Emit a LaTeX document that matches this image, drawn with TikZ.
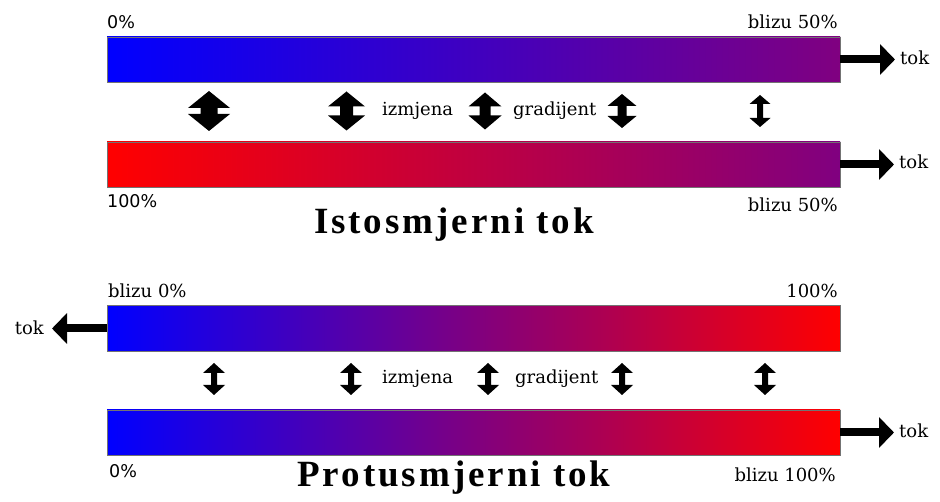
\documentclass[tikz,border=0pt]{standalone}
\usepackage{fontspec}
\setmainfont{DejaVu Serif}
\newfontfamily\titlefont[LetterSpace=8]{Liberation Serif}
\newfontfamily\pctfont{DejaVu Sans}
\usetikzlibrary{arrows.meta}
\definecolor{purp}{RGB}{128,0,128}
\definecolor{pblue}{RGB}{0,0,255}
\definecolor{pred}{RGB}{255,0,0}
\tikzset{
  bar/.style={draw=black!55, line width=0.6pt, minimum width=733pt, minimum height=45pt, inner sep=0pt},
  lbl/.style={inner sep=0pt, font=\fontsize{18}{20}\selectfont},
  pct/.style={inner sep=0pt, font=\pctfont\fontsize{17.5}{19}\selectfont},
  ttl/.style={inner sep=0pt, font=\titlefont\bfseries\fontsize{37}{40}\selectfont},
  flow/.style={line width=8pt, -{Triangle[length=15pt,width=30pt]}},
  arrfill/.style={fill=black}
}
\newcommand\VArr[6]{\fill[arrfill,shift={(#1,#2)}] (0,{-#4/2}) -- ({#3/2},{-#4/2+#5}) -- ({#6/2},{-#4/2+#5}) -- ({#6/2},{#4/2-#5}) -- ({#3/2},{#4/2-#5}) -- (0,{#4/2}) -- ({-#3/2},{#4/2-#5}) -- ({-#6/2},{#4/2-#5}) -- ({-#6/2},{-#4/2+#5}) -- ({-#3/2},{-#4/2+#5}) -- cycle;}
\begin{document}
\begin{tikzpicture}[x=1pt,y=-1pt]
\useasboundingbox (0,0) rectangle (940,502);
% ---------- Istosmjerni tok ----------
\node[bar, left color=pblue, right color=purp] (b1) at (473.5,59.5) {};
\node[bar, left color=pred, right color=purp] (b2) at (473.5,164.5) {};
\node[pct, anchor=base west] (l1a) at (107,29) {0\%};
\node[lbl, anchor=base east] (l1b) at (838,29) {blizu 50\%};
\node[pct, anchor=base west] (l2a) at (107,208) {100\%};
\node[lbl, anchor=base east] (l2b) at (838,212) {blizu 50\%};
\node[lbl, anchor=base west] (tok1) at (900,65) {tok};
\node[lbl, anchor=base west] (tok2) at (899,169) {tok};
\draw[flow, shorten >=5pt] (b1.east) -- (b1.east -| tok1.west);
\draw[flow, shorten >=5pt] (b2.east) -- (b2.east -| tok2.west);
\VArr{209}{111}{42}{40}{17}{17}
\VArr{346.5}{111}{37}{39}{15}{13}
\VArr{485}{111}{33}{37}{14}{11}
\VArr{622}{111}{29}{34}{12}{9}
\VArr{760}{111}{21}{32}{9}{6}
\node[lbl, anchor=base west] (iz1) at (382,116) {izmjena};
\node[lbl, anchor=base west] (gr1) at (513,116) {gradijent};
\node[ttl, anchor=base] (t1) at (454,234) {Istosmjerni tok};
% ---------- Protusmjerni tok ----------
\node[bar, minimum height=46pt, left color=pblue, right color=pred] (b3) at (473.5,328.5) {};
\node[bar, left color=pblue, right color=pred] (b4) at (473.5,432.5) {};
\node[lbl, anchor=base west] (l3a) at (108,298) {blizu 0\%};
\node[lbl, anchor=base east] (l3b) at (838,298) {100\%};
\node[pct, anchor=base west] (l4a) at (109,478) {0\%};
\node[lbl, anchor=base east] (l4b) at (836,482) {blizu 100\%};
\node[lbl, anchor=base east] (tok3) at (44,335) {tok};
\node[lbl, anchor=base west] (tok4) at (899,438) {tok};
\draw[flow, shorten >=8pt] (b3.west) -- (b3.west -| tok3.east);
\draw[flow, shorten >=5pt] (b4.east) -- (b4.east -| tok4.west);
\VArr{214}{379}{22}{32}{10}{6}
\VArr{351}{379}{22}{32}{10}{6}
\VArr{488}{379}{22}{32}{10}{6}
\VArr{622}{379}{22}{32}{10}{6}
\VArr{765}{379}{22}{32}{10}{6}
\node[lbl, anchor=base west] (iz2) at (382,384) {izmjena};
\node[lbl, anchor=base west] (gr2) at (515,384) {gradijent};
\node[ttl, anchor=base] (t2) at (454,486) {Protusmjerni tok};
\end{tikzpicture}
\end{document}
